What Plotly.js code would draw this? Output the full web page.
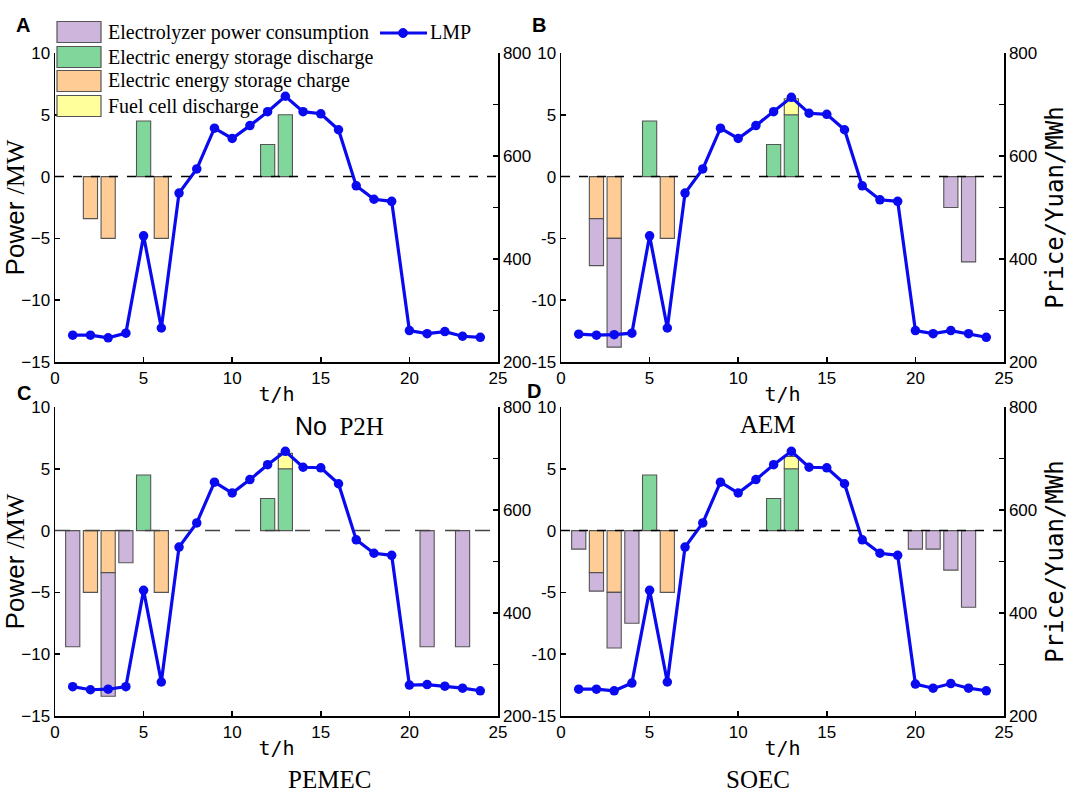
<!DOCTYPE html>
<html>
<head>
<meta charset="utf-8">
<script src="https://cdn.plot.ly/plotly-3.0.1.min.js"></script>
<style>
  html, body { margin: 0; padding: 0; background: #fff; }
  #renderTarget { width: 1072px; height: 810px; }
</style>
</head>
<body>
<div id="renderTarget"></div>
<script>
/* global Plotly */

const W = 1072;
const H = 810;

const hours = [1, 2, 3, 4, 5, 6, 7, 8, 9, 10, 11, 12, 13, 14, 15, 16, 17, 18, 19, 20, 21, 22, 23, 24];

// power (MW), 0 = no bar at that hour
// A: No P2H
const chargeA = [0, -3.4, -5, 0, 0, -5, 0, 0, 0, 0, 0, 0, 0, 0, 0, 0, 0, 0, 0, 0, 0, 0, 0, 0];
const elecA   = [0, 0, 0, 0, 0, 0, 0, 0, 0, 0, 0, 0, 0, 0, 0, 0, 0, 0, 0, 0, 0, 0, 0, 0];
const dischA  = [0, 0, 0, 0, 4.5, 0, 0, 0, 0, 0, 0, 2.6, 5, 0, 0, 0, 0, 0, 0, 0, 0, 0, 0, 0];
const fuelA   = [0, 0, 0, 0, 0, 0, 0, 0, 0, 0, 0, 0, 0, 0, 0, 0, 0, 0, 0, 0, 0, 0, 0, 0];
const lmpA = [252, 252, 247, 256, 445, 266, 528, 575, 654, 634, 659, 686, 716, 686, 682, 651, 542, 516, 512, 261, 255, 259, 250, 248];

// B: AEM
const chargeB = [0, -3.4, -5, 0, 0, -5, 0, 0, 0, 0, 0, 0, 0, 0, 0, 0, 0, 0, 0, 0, 0, 0, 0, 0];
const elecB   = [0, -3.8, -8.8, 0, 0, 0, 0, 0, 0, 0, 0, 0, 0, 0, 0, 0, 0, 0, 0, 0, 0, -2.5, -6.9, 0];
const dischB  = [0, 0, 0, 0, 4.5, 0, 0, 0, 0, 0, 0, 2.6, 5, 0, 0, 0, 0, 0, 0, 0, 0, 0, 0, 0];
const fuelB   = [0, 0, 0, 0, 0, 0, 0, 0, 0, 0, 0, 0, 1.3, 0, 0, 0, 0, 0, 0, 0, 0, 0, 0, 0];
const lmpB = [254, 252, 253, 256, 445, 266, 528, 575, 654, 634, 659, 686, 714, 683, 681, 651, 542, 515, 512, 261, 255, 261, 255, 248];

// C: PEMEC
const chargeC = [0, -5, -3.4, 0, 0, -5, 0, 0, 0, 0, 0, 0, 0, 0, 0, 0, 0, 0, 0, 0, 0, 0, 0, 0];
const elecC   = [-9.4, 0, -10, -2.6, 0, 0, 0, 0, 0, 0, 0, 0, 0, 0, 0, 0, 0, 0, 0, 0, -9.4, 0, -9.4, 0];
const dischC  = [0, 0, 0, 0, 4.5, 0, 0, 0, 0, 0, 0, 2.6, 5, 0, 0, 0, 0, 0, 0, 0, 0, 0, 0, 0];
const fuelC   = [0, 0, 0, 0, 0, 0, 0, 0, 0, 0, 0, 0, 1.25, 0, 0, 0, 0, 0, 0, 0, 0, 0, 0, 0];
const lmpC = [257, 251, 252, 257, 444, 266, 528, 575, 654, 633, 659, 688, 714, 683, 682, 651, 542, 516, 512, 260, 261, 258, 254, 249];

// D: SOEC
const chargeD = [0, -3.4, -5, 0, 0, -5, 0, 0, 0, 0, 0, 0, 0, 0, 0, 0, 0, 0, 0, 0, 0, 0, 0, 0];
const elecD   = [-1.5, -1.5, -4.5, -7.5, 0, 0, 0, 0, 0, 0, 0, 0, 0, 0, 0, 0, 0, 0, 0, -1.5, -1.5, -3.2, -6.2, 0];
const dischD  = [0, 0, 0, 0, 4.5, 0, 0, 0, 0, 0, 0, 2.6, 5, 0, 0, 0, 0, 0, 0, 0, 0, 0, 0, 0];
const fuelD   = [0, 0, 0, 0, 0, 0, 0, 0, 0, 0, 0, 0, 1.0, 0, 0, 0, 0, 0, 0, 0, 0, 0, 0, 0];
const lmpD = [252, 252, 249, 264, 444, 266, 528, 575, 654, 633, 659, 688, 714, 683, 682, 651, 542, 516, 512, 262, 254, 263, 254, 249];

const seriesNames = ["Electrolyzer power consumption", "Electric energy storage discharge", "Electric energy storage charge", "Fuel cell discharge"];
const seriesColors = ["#cdb5db", "#80d69b", "#ffcc96", "#ffff9c"];
const lmpColor = "#0a0af0";

const priceTicks = [200, 300, 400, 500, 600, 700, 800];
const priceTickText = ["200", "", "400", "", "600", "", "800"];
const powerTicks = [-15, -10, -5, 0, 5, 10];
// right-hand panels sit tight against the left panels' price labels, so use a short hyphen there
const powerTickTextTight = ["-15", "-10", "-5", "0", "5", "10"];
const hourTicks = [0, 5, 10, 15, 20, 25];

// pixel -> paper helpers
const px = (v) => v / W;
const py = (v) => 1 - v / H;

const blank = (arr) => arr.map((v) => (v === 0 ? null : v));

const panels = [
    { x: "x",  y: "y",  y2: "y2", charge: chargeA, elec: elecA, disch: dischA, fuel: fuelA, lmp: lmpA, left: 55,  top: 53,  dash: "dash" },
    { x: "x2", y: "y3", y2: "y4", charge: chargeB, elec: elecB, disch: dischB, fuel: fuelB, lmp: lmpB, left: 561, top: 53,  dash: "dash" },
    { x: "x3", y: "y5", y2: "y6", charge: chargeC, elec: elecC, disch: dischC, fuel: fuelC, lmp: lmpC, left: 55,  top: 407, dash: "longdash" },
    { x: "x4", y: "y7", y2: "y8", charge: chargeD, elec: elecD, disch: dischD, fuel: fuelD, lmp: lmpD, left: 561, top: 407, dash: "dash" },
];
const plotW = 443;
const plotH = 309;

const barTrace = (p, values, colorIdx) => ({
    type: "bar",
    x: hours,
    y: blank(values),
    xaxis: p.x,
    yaxis: p.y,
    width: 0.8,
    name: seriesNames[colorIdx],
    marker: { color: seriesColors[colorIdx], line: { color: "#555", width: 1.1 } },
    showlegend: false,
    hoverinfo: "x+y",
});

const data = [];
panels.forEach((p) => {
    // order matters for stacking: charge sits above electrolyzer, fuel cell above discharge
    data.push(barTrace(p, p.charge, 2));
    data.push(barTrace(p, p.elec, 0));
    data.push(barTrace(p, p.disch, 1));
    data.push(barTrace(p, p.fuel, 3));
    data.push({
        type: "scatter",
        mode: "lines+markers",
        x: hours,
        y: p.lmp,
        xaxis: p.x,
        yaxis: p.y2,
        name: "LMP",
        line: { color: lmpColor, width: 3.2 },
        marker: { color: lmpColor, size: 9.5 },
        showlegend: false,
    });
});

const tickFont = { family: "Liberation Sans, Arial, sans-serif", size: 17, color: "#000" };
const baseAxis = {
    showline: true,
    linecolor: "#000",
    linewidth: 1.5,
    ticks: "inside",
    ticklen: 5,
    tickwidth: 1.5,
    tickcolor: "#000",
    showgrid: false,
    zeroline: false,
    automargin: false,
    tickfont: tickFont,
};

const layout = {
    width: W,
    height: H,
    autosize: false,
    margin: { l: 0, r: 0, t: 0, b: 0, pad: 0 },
    paper_bgcolor: "#fff",
    plot_bgcolor: "rgba(0,0,0,0)",
    barmode: "relative",
    showlegend: false,
    shapes: [],
    annotations: [],
};

panels.forEach((p, i) => {
    const xName = i === 0 ? "xaxis" : "xaxis" + (i + 1);
    const yName = p.y === "y" ? "yaxis" : "yaxis" + p.y.slice(1);
    const y2Name = "yaxis" + p.y2.slice(1);
    const yDomain = [py(p.top + plotH), py(p.top)];
    const isLeft = i % 2 === 0;

    layout[xName] = Object.assign({}, baseAxis, {
        domain: [px(p.left), px(p.left + plotW)],
        anchor: p.y,
        range: [0, 25],
        tickvals: hourTicks,
        title: { text: "t/h", font: { family: "DejaVu Sans Mono, monospace", size: 20, color: "#000" }, standoff: 0 },
    });
    const yAxis = Object.assign({}, baseAxis, {
        domain: yDomain,
        anchor: p.x,
        range: [-15, 10],
        tickvals: powerTicks,
        title: isLeft ? {
            text: 'Power <span style="font-family:Liberation Serif, Times New Roman, serif">/MW</span>',
            font: { family: "Liberation Sans, Arial, sans-serif", size: 26, color: "#000" },
            standoff: 4,
        } : { text: "" },
    });
    if (!isLeft) yAxis.ticktext = powerTickTextTight;
    layout[yName] = yAxis;

    layout[y2Name] = Object.assign({}, baseAxis, {
        overlaying: p.y,
        anchor: p.x,
        side: "right",
        range: [200, 800],
        tickvals: priceTicks,
        ticktext: priceTickText,
        title: !isLeft ? {
            text: "Price/Yuan/MWh",
            font: { family: "DejaVu Sans Mono, monospace", size: 24, color: "#000" },
            standoff: 10,
        } : { text: "" },
    });

    // dashed zero line across each panel
    layout.shapes.push({
        type: "line",
        xref: p.x,
        yref: p.y,
        x0: 0,
        x1: 25,
        y0: 0,
        y1: 0,
        line: { color: p.dash === "longdash" ? "#444" : "#000", width: 1.5, dash: p.dash },
        layer: "above",
    });
});

// panel letters
const letters = [["A", 14, 12], ["B", 539, 12], ["C", 15, 393], ["D", 534, 391]];
letters.forEach(([t, x, y]) => {
    layout.annotations.push({
        text: "<b>" + t + "</b>",
        xref: "paper", yref: "paper",
        x: px(x), y: py(y),
        showarrow: false,
        font: { family: "Liberation Sans, Arial, sans-serif", size: 20, color: "#000" },
    });
});

// case labels
const caseLabels = [
    ['<span style="font-family:Liberation Sans, Arial, sans-serif">No</span>\u00a0\u00a0P2H', 293, 426],
    ["AEM", 798, 424],
    ["PEMEC", 286, 795],
    ["SOEC", 792, 795],
];
caseLabels.forEach(([t, x, y]) => {
    layout.annotations.push({
        text: t,
        xref: "paper", yref: "paper",
        x: px(x), y: py(y),
        showarrow: false,
        font: { family: "Liberation Serif, Times New Roman, serif", size: 25, color: "#000" },
    });
});

// legend drawn by hand so the swatches get the wide boxes of the original
const legendRows = [32, 57, 81, 106];
legendRows.forEach((cy, k) => {
    layout.shapes.push({
        type: "rect",
        xref: "paper", yref: "paper",
        x0: px(57), x1: px(101),
        y0: py(cy - 10.5), y1: py(cy + 10.5),
        fillcolor: seriesColors[k],
        line: { color: "#555", width: 1.2 },
        layer: "above",
    });
    layout.annotations.push({
        text: seriesNames[k],
        xref: "paper", yref: "paper",
        x: px(106), y: py(cy),
        xanchor: "left", yanchor: "middle",
        showarrow: false,
        font: { family: "Liberation Serif, Times New Roman, serif", size: 20, color: "#000" },
    });
});
layout.shapes.push({
    type: "line",
    xref: "paper", yref: "paper",
    x0: px(380), x1: px(427), y0: py(33), y1: py(33),
    line: { color: lmpColor, width: 3.2 },
    layer: "above",
});
layout.shapes.push({
    type: "circle",
    xref: "paper", yref: "paper",
    x0: px(398.5), x1: px(407.5), y0: py(28.5), y1: py(37.5),
    fillcolor: lmpColor,
    line: { color: lmpColor, width: 1 },
    layer: "above",
});
layout.annotations.push({
    text: "LMP",
    xref: "paper", yref: "paper",
    x: px(428), y: py(32),
    xanchor: "left", yanchor: "middle",
    showarrow: false,
    font: { family: "Liberation Serif, Times New Roman, serif", size: 20, color: "#000" },
});

Plotly.newPlot("renderTarget", data, layout, { displayModeBar: false, staticPlot: true });
</script>
</body>
</html>
